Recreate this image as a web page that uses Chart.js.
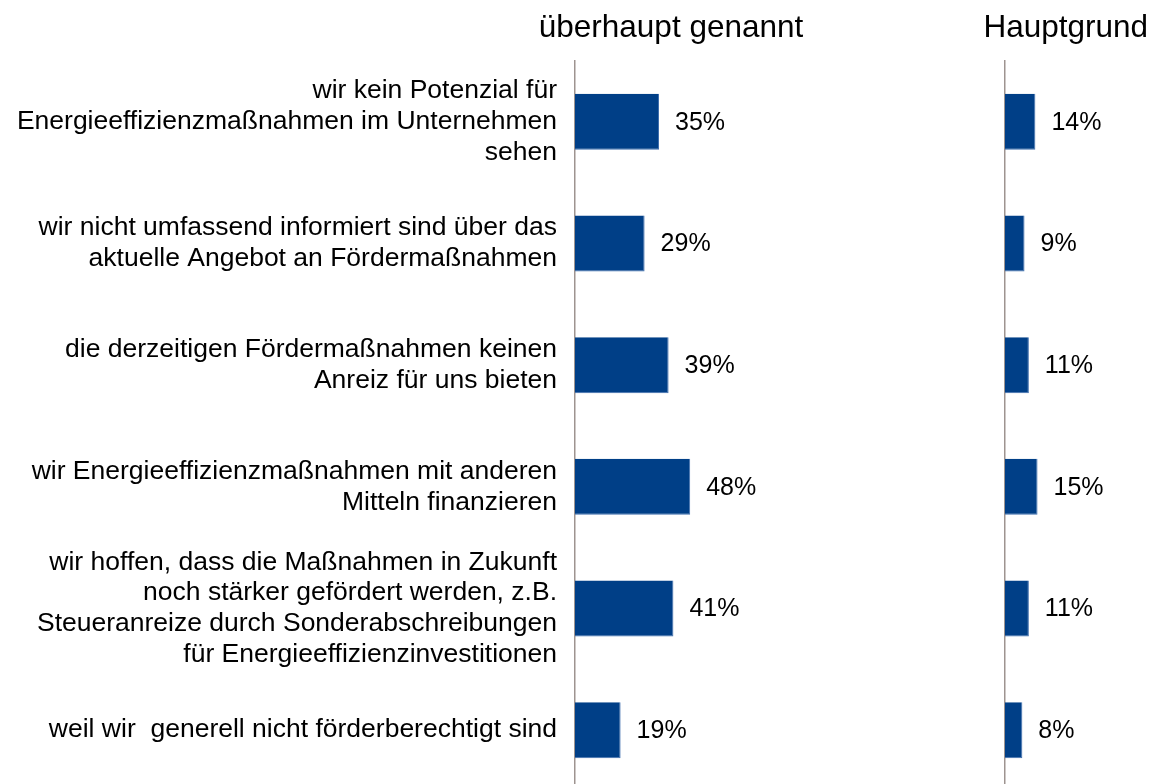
<!DOCTYPE html>
<html>
<head>
<meta charset="utf-8">
<script src="https://cdn.jsdelivr.net/npm/chart.js@4/dist/chart.umd.min.js"></script>
<style>
  html, body { margin: 0; padding: 0; background: #fff; overflow: hidden; width: 1153px; height: 784px; }
  canvas { position: absolute; top: 0; }
  #leftChart { left: 0; }
  #rightChart { left: 979px; }
</style>
</head>
<body>
<canvas id="leftChart" width="830" height="791"></canvas>
<canvas id="rightChart" width="174" height="791"></canvas>
<script>
// categories (multi-line labels as in the original)
var categories = [
  ['wir kein Potenzial für', 'Energieeffizienzmaßnahmen im Unternehmen', 'sehen'],
  ['wir nicht umfassend informiert sind über das', 'aktuelle Angebot an Fördermaßnahmen'],
  ['die derzeitigen Fördermaßnahmen keinen', 'Anreiz für uns bieten'],
  ['wir Energieeffizienzmaßnahmen mit anderen', 'Mitteln finanzieren'],
  ['wir hoffen, dass die Maßnahmen in Zukunft', 'noch stärker gefördert werden, z.B.', 'Steueranreize durch Sonderabschreibungen', 'für Energieeffizienzinvestitionen'],
  ['weil wir  generell nicht förderberechtigt sind']
]
var ueberhauptGenannt = [35, 29, 39, 48, 41, 19]
var hauptgrund = [14, 9, 11, 15, 11, 8]
var panelTitles = ['überhaupt genannt', 'Hauptgrund']

var FONT = '"Liberation Sans", Arial, sans-serif'
var BAR_COLOR = '#003F87'
var AXIS_COLOR = '#9E9490'

// draws the panel title above the chart area and the % labels next to the bars
var panelText = {
  id: 'panelText',
  afterDraw: function (chart, args, opts) {
    var ctx = chart.ctx
    var area = chart.chartArea
    ctx.save()
    ctx.fillStyle = '#000'
    ctx.font = '31.5px ' + FONT
    ctx.textAlign = 'center'
    ctx.textBaseline = 'alphabetic'
    ctx.fillText(opts.title, (area.left + area.right) / 2, 37)

    ctx.font = '25px ' + FONT
    ctx.textAlign = 'left'
    ctx.textBaseline = 'middle'
    var meta = chart.getDatasetMeta(0)
    var values = chart.data.datasets[0].data
    meta.data.forEach(function (bar, i) {
      ctx.fillText(values[i] + '%', bar.x + 16, bar.y + 1)
    })
    ctx.restore()
  }
}

var leftCtx = document.getElementById('leftChart').getContext('2d')
new Chart(leftCtx, {
  type: 'bar',
  data: {
    labels: categories,
    datasets: [{
      data: ueberhauptGenannt,
      backgroundColor: BAR_COLOR,
      borderColor: '#3F6FAE',
      borderWidth: { top: 0, left: 0, right: 1, bottom: 1 },
      borderSkipped: false,
      categoryPercentage: 1,
      barPercentage: 0.46
    }]
  },
  options: {
    indexAxis: 'y',
    responsive: false,
    animation: false,
    layout: { padding: { top: 61, right: 63, bottom: 0, left: 0 } },
    plugins: {
      legend: { display: false },
      tooltip: { enabled: false },
      panelText: { title: panelTitles[0] }
    },
    scales: {
      x: { display: false, min: 0, max: 80 },
      y: {
        afterFit: function (scale) {
          scale.width = 575
          scale.paddingTop = 0
          scale.paddingBottom = 0
        },
        grid: { display: false, drawTicks: false },
        border: { display: true, color: AXIS_COLOR, width: 1.5 },
        ticks: {
          autoSkip: false,
          padding: 18,
          color: '#000',
          font: { family: FONT, size: 26.5, lineHeight: 1.16 }
        }
      }
    }
  },
  plugins: [panelText]
})

var rightCtx = document.getElementById('rightChart').getContext('2d')
new Chart(rightCtx, {
  type: 'bar',
  data: {
    labels: categories,
    datasets: [{
      data: hauptgrund,
      backgroundColor: BAR_COLOR,
      borderColor: '#3F6FAE',
      borderWidth: { top: 0, left: 0, right: 1, bottom: 1 },
      borderSkipped: false,
      categoryPercentage: 1,
      barPercentage: 0.46
    }]
  },
  options: {
    indexAxis: 'y',
    responsive: false,
    animation: false,
    layout: { padding: { top: 61, right: 26.5, bottom: 0, left: 26 } },
    plugins: {
      legend: { display: false },
      tooltip: { enabled: false },
      panelText: { title: panelTitles[1] }
    },
    scales: {
      x: { display: false, min: 0, max: 56 },
      y: {
        afterFit: function (scale) { scale.width = 0 },
        grid: { display: false, drawTicks: false },
        border: { display: true, color: AXIS_COLOR, width: 1.5 },
        ticks: { display: false }
      }
    }
  },
  plugins: [panelText]
})
</script>
</body>
</html>
